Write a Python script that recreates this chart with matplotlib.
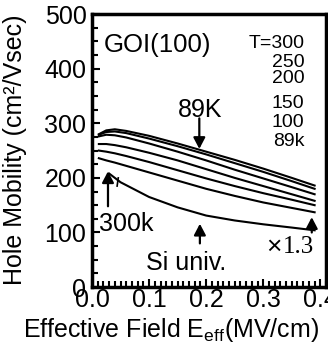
import matplotlib
matplotlib.use("Agg")
import matplotlib.pyplot as plt
from matplotlib.ticker import MultipleLocator, FormatStrFormatter

plt.rcParams['font.family'] = ['Liberation Sans', 'DejaVu Sans']
plt.rcParams['mathtext.fontset'] = 'custom'
plt.rcParams['mathtext.rm'] = 'Liberation Sans'
plt.rcParams['mathtext.it'] = 'Liberation Sans'

# effective field (MV/cm)
field = [0.012, 0.025, 0.04, 0.06, 0.1, 0.15, 0.2, 0.25, 0.3, 0.35, 0.39]

# GOI(100) hole mobility at each temperature (cm2/Vsec)
mob_89 = [280, 287, 289, 286, 277, 263, 248, 233, 217, 200, 186]
mob_100 = [279, 284, 285, 282, 272, 258, 243, 227, 211, 194, 180]
mob_150 = [276, 279, 278, 274, 263, 248, 232, 215, 199, 183, 170]
mob_200 = [262, 262, 260, 256, 246, 232, 216, 200, 185, 170, 158]
mob_250 = [250, 248, 245, 240, 229, 214, 199, 185, 172, 160, 150]
mob_300 = [236, 232, 228, 222, 210, 195, 180, 167, 155, 145, 137]

# Si universal curve
si_field = [0.03, 0.05, 0.1, 0.15, 0.2, 0.25, 0.3, 0.35, 0.39]
si_mob = [208, 192, 165, 146, 131, 122, 115, 109, 104]

temps = ["T=300", "250", "200", "150", "100", "89k"]

fig = plt.figure(figsize=(3.28, 3.43), dpi=100)
ax = fig.add_axes([0.2805, 0.163, 0.7135, 0.796])

for m in [mob_89, mob_100, mob_150, mob_200, mob_250, mob_300]:
    ax.plot(field, m, color='black', lw=1.5)
ax.plot(si_field, si_mob, color='black', lw=1.5)

ax.set_xlim(0, 0.41)
ax.set_ylim(0, 500)
ax.xaxis.set_major_locator(MultipleLocator(0.1))
ax.xaxis.set_minor_locator(MultipleLocator(0.01))
ax.yaxis.set_major_locator(MultipleLocator(100))
ax.yaxis.set_minor_locator(MultipleLocator(25))
ax.xaxis.set_major_formatter(FormatStrFormatter('%.1f'))
ax.tick_params(which='both', direction='in', width=1.5, labelsize=18)
ax.tick_params(which='major', length=6, pad=1)
ax.tick_params(which='minor', length=4)
ax.tick_params(axis='y', which='major', pad=4)
for s in ax.spines.values():
    s.set_linewidth(2.5)

fig.text(15 / 328, 0.563, "Hole Mobility (cm²/Vsec)", fontsize=18,
         rotation=90, ha='center', va='center')
fig.text(171 / 328, 0.038, r"Effective Field E$_{\rm eff}$(MV/cm)", fontsize=18,
         ha='center', va='center')

ax.text(0.02, 443, "GOI(100)", fontsize=18.5, va='center', ha='left')

ty = [446, 411, 382, 337, 302, 266]
for t, y in zip(temps, ty):
    ax.text(0.372, y, t, fontsize=14, ha='right', va='center',
            family=['Liberation Sans Narrow', 'Liberation Sans'])

arrow = dict(arrowstyle='-|>,head_width=0.22,head_length=0.42', color='black',
             lw=1.6, mutation_scale=16, shrinkA=0, shrinkB=0)

ax.text(0.19, 324, "89K", fontsize=18, ha='center', va='center')
ax.annotate("", xy=(0.188, 253), xytext=(0.188, 309), arrowprops=arrow)

ax.text(0.012, 115, "300k", fontsize=18, ha='left', va='center')
ax.annotate("", xy=(0.028, 212), xytext=(0.028, 148), arrowprops=arrow)
ax.plot([0.044, 0.046], [185, 200], color='black', lw=1.2)

ax.text(0.165, 44, "Si univ.", fontsize=18, ha='center', va='center')
ax.annotate("", xy=(0.189, 116), xytext=(0.189, 80), arrowprops=arrow)

ax.text(0.318, 73, "×", fontsize=19, ha='center', va='center')
ax.text(0.334, 73, "1.3", fontsize=18, ha='left', va='center', family='Liberation Serif')
ax.annotate("", xy=(0.385, 128), xytext=(0.385, 100), arrowprops=arrow)

fig.savefig("out.png", dpi=100)
